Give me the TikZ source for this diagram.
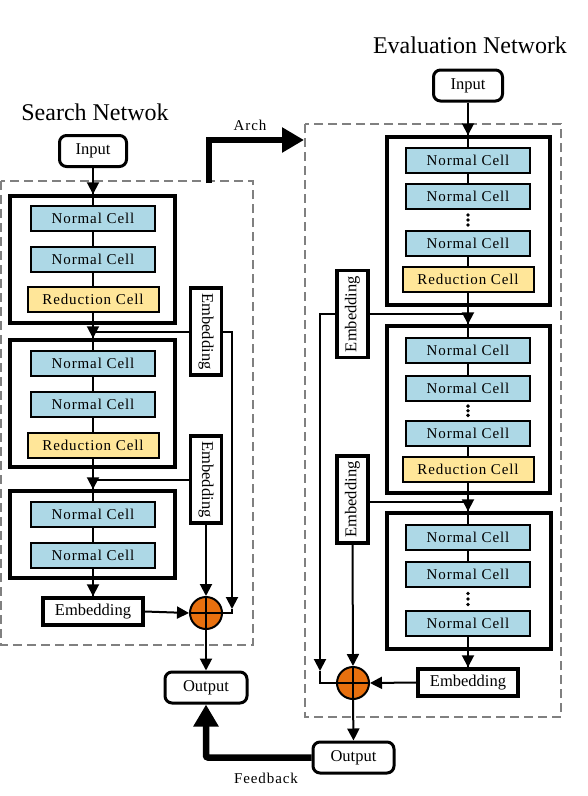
\documentclass[tikz,border=0pt]{standalone}
\usepackage{fontspec}
\usepackage{graphicx}
\setmainfont{Liberation Serif}
\newfontfamily\cellfont[LetterSpace=6]{Liberation Serif}
\usetikzlibrary{arrows.meta,calc,backgrounds}
\definecolor{cellblue}{HTML}{ADD8E6}
\definecolor{redyellow}{HTML}{FFE699}
\definecolor{sumorange}{HTML}{E8700E}
\definecolor{dashgray}{HTML}{808080}
\begin{document}
\begin{tikzpicture}[x=1pt,y=-1pt,
  conn/.style={draw=black,line width=2pt},
  tip/.style={-{Triangle[length=12pt,width=12pt]}},
  bigconn/.style={draw=black,line width=6.5pt,-{Triangle[length=22pt,width=24pt]}},
  cellbox/.style={draw,line width=2pt,fill=cellblue,minimum width=124pt,minimum height=25pt,inner sep=0pt,font=\cellfont\fontsize{15}{18}\selectfont},
  redbox/.style={cellbox,fill=redyellow,minimum width=131pt},
  block/.style={draw,line width=3.5pt,inner sep=0pt},
  iobox/.style={draw,rounded corners=7pt,line width=3pt,fill=white,minimum width=67pt,minimum height=31pt,inner sep=0pt,font=\fontsize{16.5}{19}\selectfont},
  embh/.style={draw,line width=3.5pt,fill=white,minimum width=100pt,minimum height=27pt,inner sep=0pt,font=\fontsize{16.5}{19}\selectfont},
  embv/.style={draw,line width=3.5pt,fill=white,minimum width=31pt,minimum height=87pt,inner sep=0pt,font=\fontsize{16.5}{19}\selectfont},
  sumnode/.style={circle,draw,line width=2pt,fill=sumorange,minimum size=32pt,inner sep=0pt},
  dashbox/.style={draw=dashgray,line width=2.5pt,dash pattern=on 9pt off 5pt},
  title/.style={font=\fontsize{24}{28}\selectfont},
  lab/.style={font=\cellfont\fontsize{15}{18}\selectfont}
]
\useasboundingbox (0,0) rectangle (587,796);

% ---------- dashed regions ----------
\draw[dashbox] (1,181) rectangle (253,645);
\draw[dashbox] (305,124) rectangle (561,717);

% ---------- titles ----------
\node[title] (tL) at (95,112) {Search Netwok};
\node[title] (tR) at (470,45) {Evaluation Network};

% ---------- Search network ----------
\node[iobox] (inL) at (93,151) {Input};
\node[block,minimum width=165pt,minimum height=127pt] (blk1) at (92.5,259.5) {};
\node[cellbox] (nL1) at (93,218.5) {Normal Cell};
\node[cellbox] (nL2) at (93,259.5) {Normal Cell};
\node[redbox] (rL1) at (93,299.5) {Reduction Cell};
\node[block,minimum width=165pt,minimum height=127pt] (blk2) at (92.5,403.5) {};
\node[cellbox] (nL3) at (93,363.5) {Normal Cell};
\node[cellbox] (nL4) at (93,404) {Normal Cell};
\node[redbox] (rL2) at (93,445) {Reduction Cell};
\node[block,minimum width=165pt,minimum height=87pt] (blk3) at (92.5,534.5) {};
\node[cellbox] (nL5) at (93,514) {Normal Cell};
\node[cellbox] (nL6) at (93,555) {Normal Cell};
\node[embh] (embL) at (93,611.5) {Embedding};
\node[sumnode] (sumL) at (206,613) {};
\node[embv] (eL1) at (206,331.5) {\rotatebox{-90}{Embedding}};
\node[embv] (eL2) at (206,479.5) {\rotatebox{-90}{Embedding}};
\node[iobox,minimum width=82pt] (outL) at (206,687.5) {Output};

% ---------- Evaluation network ----------
\node[iobox,minimum width=69pt] (inR) at (468,85.5) {Input};
\node[block,minimum width=163pt,minimum height=168pt] (blkA) at (468.5,221) {};
\node[cellbox] (nR1) at (468,160) {Normal Cell};
\node[cellbox] (nR2) at (468,196.5) {Normal Cell};
\node[cellbox] (nR3) at (468,243.5) {Normal Cell};
\node[redbox] (rR1) at (468,279.5) {Reduction Cell};
\node[block,minimum width=163pt,minimum height=167pt] (blkB) at (468.5,409.5) {};
\node[cellbox] (nR4) at (468,350.5) {Normal Cell};
\node[cellbox] (nR5) at (468,388) {Normal Cell};
\node[cellbox] (nR6) at (468,433.5) {Normal Cell};
\node[redbox] (rR2) at (468,469.5) {Reduction Cell};
\node[block,minimum width=164pt,minimum height=136pt] (blkC) at (469,581) {};
\node[cellbox] (nR7) at (468,537) {Normal Cell};
\node[cellbox] (nR8) at (468,574.5) {Normal Cell};
\node[cellbox] (nR9) at (468,623.5) {Normal Cell};
\node[embh] (embR) at (468,682.5) {Embedding};
\node[sumnode] (sumR) at (353,683) {};
\node[embv] (eR1) at (352.5,314) {\rotatebox{90}{Embedding}};
\node[embv] (eR2) at (352.5,499.5) {\rotatebox{90}{Embedding}};
\node[iobox,minimum width=81pt] (outR) at (353.5,757.5) {Output};

% plus signs in sums
\draw[line width=2pt] (sumL.north) -- (sumL.south) (sumL.west) -- (sumL.east);
\draw[line width=2pt] (sumR.north) -- (sumR.south) (sumR.west) -- (sumR.east);

% dots
\foreach \n/\m in {nR2/nR3,nR5/nR6,nR8/nR9}{
  \fill ($(\n.south)!0.25!(\m.north)$) circle (1.9pt);
  \fill ($(\n.south)!0.5!(\m.north)$) circle (1.9pt);
  \fill ($(\n.south)!0.75!(\m.north)$) circle (1.9pt);
}

% ---------- connectors ----------
\begin{pgfonlayer}{background}
  % left main line
  \draw[conn] (inL.south) -- (embL.north);
  % left branches
  \draw[conn] (rL1.south |- eL1.center) -- (eL1.west);
  \draw[conn] (rL2.south |- eL2.center) -- (eL2.west);
  % right main line segments
  \draw[conn] (inR.south) -- (nR2.center);
  \draw[conn] (nR3.center) -- (nR5.center);
  \draw[conn] (nR6.center) -- (nR8.center);
  \draw[conn] (nR9.center) -- (embR.north);
  % right branches
  \draw[conn] (rR1.south |- eR1.center) -- (eR1.east);
  \draw[conn] (rR2.south |- 0,502) -- (eR2.east |- 0,502);
\end{pgfonlayer}

% left arrows
\draw[conn,tip] (inL.south) -- (inL.south |- blk1.north);
\draw[conn,tip] (rL1.south) -- (rL1.south |- blk2.north);
\draw[conn,tip] (rL2.south) -- (rL2.south |- blk3.north);
\draw[conn,tip] (nL6.south) -- (embL.north);
\coordinate (arrL) at (232,609);
\draw[conn,tip] (eL1.east) -| (arrL);
\draw[conn] (arrL) |- (sumL.east);
\draw[conn,tip] (eL2.south) -- (sumL.north);
\draw[conn,tip] (embL.east) -- (sumL.west);
\draw[conn,tip] (sumL.south) -- (outL.north);

% right arrows
\draw[conn,tip] (inR.south) -- (inR.south |- blkA.north);
\draw[conn,tip] (rR1.south) -- (rR1.south |- blkB.north);
\draw[conn,tip] (rR2.south) -- (rR2.south |- blkC.north);
\draw[conn,tip] (nR9.south |- blkC.south) -- (embR.north);
\coordinate (arrR) at (320,671);
\draw[conn,tip] (eR1.west) -| (arrR);
\draw[conn] (arrR) |- (sumR.west);
\draw[conn,tip] (eR2.south) -- (sumR.north);
\draw[conn,tip] (embR.west) -- (sumR.east);
\draw[conn,tip] (sumR.south) -- (outR.north);

% Arch arrow
\coordinate (archS) at (209,183);
\coordinate (archE) at (304,140);
\draw[bigconn] (archS) |- (archE);
\node[lab] (archL) at (250,125) {Arch};

% Feedback arrow
\draw[bigconn,rounded corners=2pt] (outR.west) -| (outL.south);
\node[lab] (fbL) at (266,778) {Feedback};
\end{tikzpicture}
\end{document}
